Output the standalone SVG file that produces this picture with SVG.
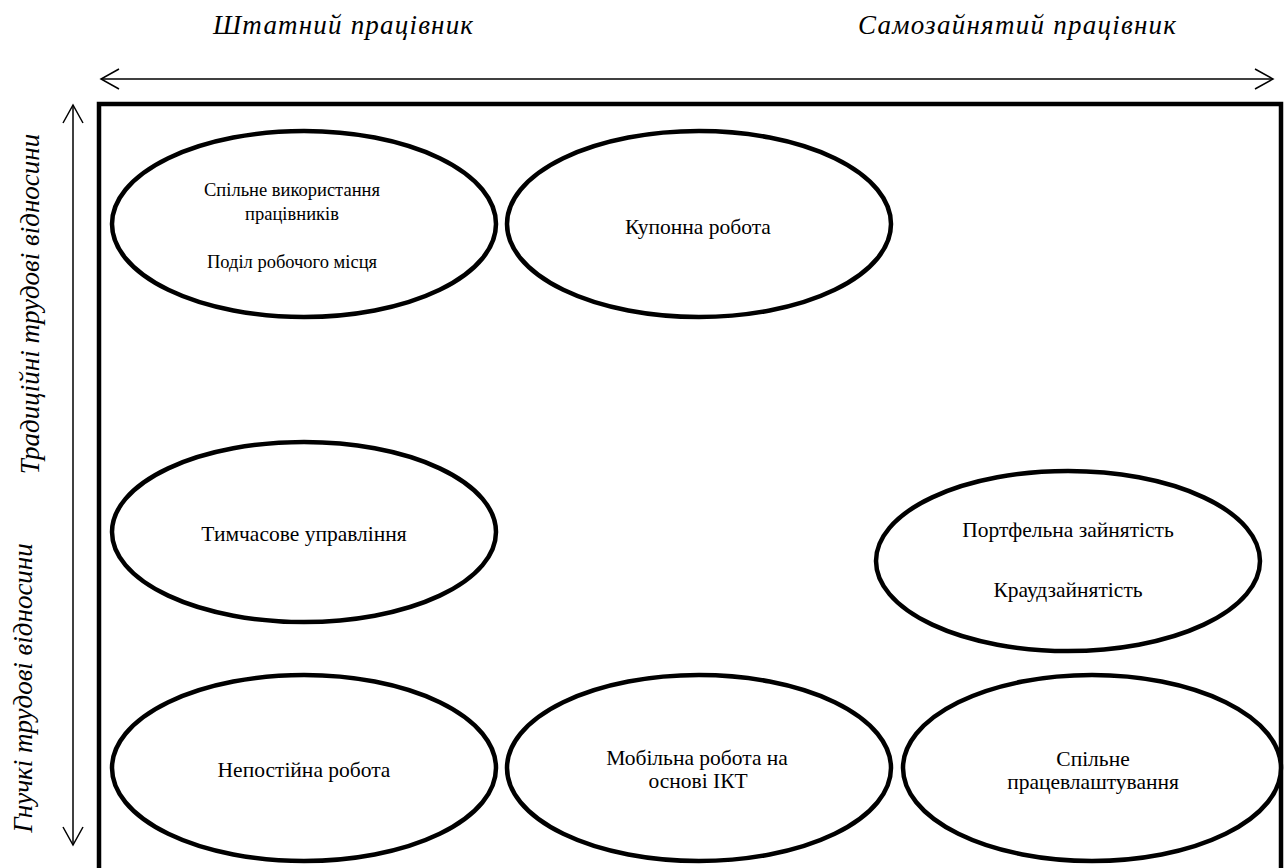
<svg xmlns="http://www.w3.org/2000/svg" width="1285" height="868" viewBox="0 0 1285 868">
<style>
.frame{fill:none;stroke:#000;stroke-width:4.5}
.node ellipse{fill:#fff;stroke:#000;stroke-width:4.5}
.node text{font-family:'Liberation Serif','Times New Roman','DejaVu Serif',serif;font-size:21.5px;fill:#000;text-anchor:middle}
.node text.sm{font-size:18.5px}
.axis{stroke:#000;stroke-width:1.5;fill:none}
.lbl{font-family:'Liberation Serif','Times New Roman','DejaVu Serif',serif;font-size:27px;font-style:italic;fill:#000}
.mid{text-anchor:middle}
</style>
<defs>
<marker id="ah" markerUnits="userSpaceOnUse" viewBox="0 0 22 24" refX="20" refY="12" markerWidth="22" markerHeight="24" orient="auto-start-reverse">
<path d="M2,2 L20,12 L2,22" fill="none" stroke="#000" stroke-width="1.5"/>
</marker>
</defs>
<rect width="1285" height="868" fill="#fff"/>
<text class="lbl" x="213" y="34" textLength="260" lengthAdjust="spacing">Штатний працівник</text>
<text class="lbl" x="858" y="34" textLength="318" lengthAdjust="spacing">Самозайнятий працівник</text>
<text class="lbl mid" transform="translate(39,304) rotate(-90)">Традиційні трудові відносини</text>
<text class="lbl mid" transform="translate(32,688) rotate(-90)">Гнучкі трудові відносини</text>
<g id="connectors">
<line class="axis" x1="101" y1="79" x2="1273" y2="79" marker-start="url(#ah)" marker-end="url(#ah)"/>
<line class="axis" x1="73" y1="105" x2="73" y2="845" marker-start="url(#ah)" marker-end="url(#ah)"/>
</g>
<rect class="frame" x="99" y="104" width="1182" height="800"/>
<g id="n1" class="node">
<ellipse cx="304" cy="224" rx="192" ry="93"/>
<text class="sm" x="292" y="196">Спільне використання</text>
<text class="sm" x="292" y="220">працівників</text>
<text class="sm" x="292" y="268">Поділ робочого місця</text>
</g>
<g id="n2" class="node">
<ellipse cx="699" cy="224" rx="192" ry="93"/>
<text x="698" y="234">Купонна робота</text>
</g>
<g id="n3" class="node">
<ellipse cx="304" cy="532" rx="192" ry="90"/>
<text x="304" y="541">Тимчасове управління</text>
</g>
<g id="n4" class="node">
<ellipse cx="1068" cy="561" rx="192" ry="90"/>
<text x="1068" y="537">Портфельна зайнятість</text>
<text x="1068" y="597">Краудзайнятість</text>
</g>
<g id="n5" class="node">
<ellipse cx="304" cy="768" rx="192" ry="93"/>
<text x="304" y="777">Непостійна робота</text>
</g>
<g id="n6" class="node">
<ellipse cx="699" cy="768" rx="192" ry="93"/>
<text x="697" y="765">Мобільна робота на</text>
<text x="698" y="788">основі ІКТ</text>
</g>
<g id="n7" class="node">
<ellipse cx="1092" cy="768" rx="189" ry="93"/>
<text x="1093" y="766">Спільне</text>
<text x="1093" y="789">працевлаштування</text>
</g>
</svg>
